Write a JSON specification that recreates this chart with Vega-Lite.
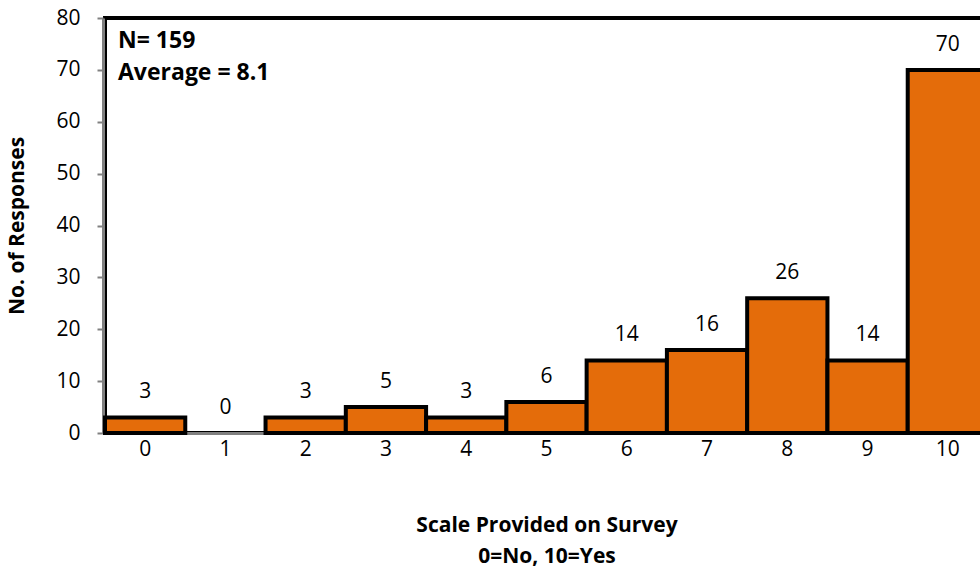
{
  "$schema": "https://vega.github.io/schema/vega-lite/v6.json",
  "width": 883,
  "height": 415,
  "autosize": "none",
  "padding": {"left": 105, "top": 18, "right": 0, "bottom": 138},
  "background": "white",
  "config": {
    "font": "Open Sans",
    "view": {"stroke": "black", "strokeWidth": 4},
    "axis": {"grid": false, "labelFont": "Open Sans", "titleFont": "Open Sans"}
  },
  "data": {
    "values": [
      {"score": "0", "count": 3},
      {"score": "1", "count": 0},
      {"score": "2", "count": 3},
      {"score": "3", "count": 5},
      {"score": "4", "count": 3},
      {"score": "5", "count": 6},
      {"score": "6", "count": 14},
      {"score": "7", "count": 16},
      {"score": "8", "count": 26},
      {"score": "9", "count": 14},
      {"score": "10", "count": 70}
    ]
  },
  "encoding": {
    "x": {
      "field": "score",
      "type": "ordinal",
      "sort": null,
      "scale": {"paddingInner": 0, "paddingOuter": 0},
      "axis": {
        "title": ["Scale Provided on Survey", "0=No, 10=Yes"],
        "titleFontSize": 21,
        "titleFontWeight": "bold",
        "titleColor": "black",
        "titlePadding": 55,
        "titleLineHeight": 31,
        "labelAngle": 0,
        "labelFontSize": 21,
        "labelColor": "black",
        "labelPadding": 5,
        "domainColor": "#808080",
        "domainWidth": 3,
        "ticks": false
      }
    }
  },
  "layer": [
    {
      "mark": {"type": "bar", "fill": "#E46C0A", "stroke": "black", "strokeWidth": 4},
      "encoding": {
        "y": {
          "field": "count",
          "type": "quantitative",
          "scale": {"domain": [0, 80]},
          "axis": {
            "title": "No. of Responses",
            "titleFontSize": 21,
            "titleFontWeight": "bold",
            "titleColor": "black",
            "titlePadding": 28,
            "values": [0, 10, 20, 30, 40, 50, 60, 70, 80],
            "labelFontSize": 21,
            "labelColor": "black",
            "labelPadding": 17,
            "domainColor": "#808080",
            "domainWidth": 3,
            "tickColor": "#808080",
            "tickWidth": 2,
            "tickSize": 6,
            "offset": 2
          }
        },
        "strokeOpacity": {"condition": {"test": "datum.count === 0", "value": 0}, "value": 1}
      }
    },
    {
      "mark": {"type": "text", "fontSize": 21, "color": "black", "dy": -25},
      "encoding": {
        "y": {"field": "count", "type": "quantitative"},
        "text": {"field": "count", "type": "quantitative"}
      }
    },
    {
      "data": {
        "values": [
          {"note": "N= 159", "score": "0", "level": 75.6},
          {"note": "Average = 8.1", "score": "0", "level": 69.4}
        ]
      },
      "mark": {"type": "text", "align": "left", "baseline": "middle", "fontSize": 23, "fontWeight": "bold", "color": "black", "dx": 13},
      "encoding": {
        "x": {"field": "score", "type": "ordinal", "bandPosition": 0},
        "y": {"field": "level", "type": "quantitative"},
        "text": {"field": "note"}
      }
    }
  ]
}
